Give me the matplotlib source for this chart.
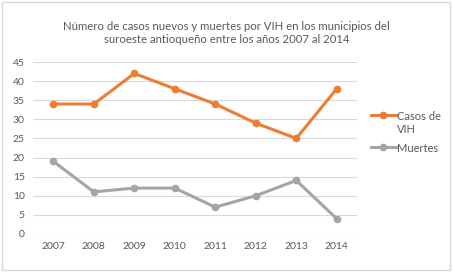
import matplotlib
import matplotlib.pyplot as plt
from matplotlib.patches import Rectangle

matplotlib.use('Agg')

years = ['2007', '2008', '2009', '2010', '2011', '2012', '2013', '2014']
casos_vih = [34, 34, 42, 38, 34, 29, 25, 38]
muertes = [19, 11, 12, 12, 7, 10, 14, 4]

TEXT = '#595959'
ORANGE = '#ED7D31'
GRAY = '#A5A5A5'

plt.rcParams['font.family'] = ['Lato', 'DejaVu Sans']

fig = plt.figure(figsize=(4.53, 2.72), dpi=100)
fig.patches.append(Rectangle((0.004, 0.006), 0.99, 0.985, transform=fig.transFigure,
                             fill=False, edgecolor='#D9D9D9', lw=1))
ax = fig.add_axes([0.073, 0.140, 0.715, 0.632])

x = range(len(years))
ax.plot(x, casos_vih, '-o', color=ORANGE, lw=2.2, ms=4.5, label='Casos de\nVIH')
ax.plot(x, muertes, '-o', color=GRAY, lw=2.2, ms=4.5, label='Muertes')

ax.set_xlim(-0.5, len(years) - 0.5)
ax.set_ylim(0, 45)
ax.set_yticks(range(0, 46, 5))
ax.set_xticks(list(x))
ax.set_xticklabels(years)
ax.yaxis.grid(True, color='#D9D9D9', lw=0.8)
ax.set_axisbelow(True)
for s in ax.spines.values():
    s.set_visible(False)
ax.tick_params(length=0, labelsize=7.5, labelcolor=TEXT, pad=6)

fig.text(0.5, 0.879, 'Número de casos nuevos y muertes por VIH en los municipios del\n'
         'suroeste antioqueño entre los años 2007 al 2014',
         ha='center', va='center', fontsize=8.2, color=TEXT, linespacing=1.25)

leg = ax.legend(loc='upper left', bbox_to_anchor=(1.03, 0.74), frameon=False,
                fontsize=8, labelcolor=TEXT, handlelength=2.2, handletextpad=0.1,
                borderaxespad=0, labelspacing=0.7)
# line next to the first text line, like Excel does
for col in leg._legend_handle_box.get_children():
    for row in col.get_children():
        row.align = 'top'

fig.savefig('out.png', dpi=100)
